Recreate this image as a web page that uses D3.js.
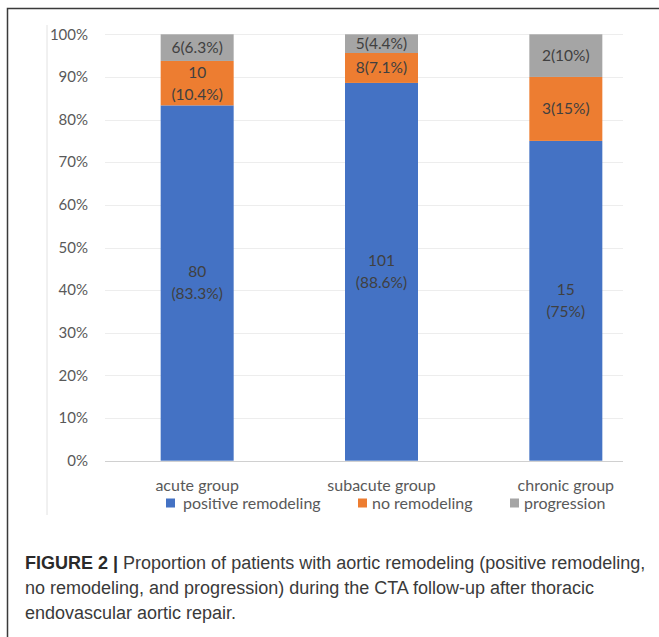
<!DOCTYPE html>
<html>
<head>
<meta charset="utf-8">
<script src="https://cdn.jsdelivr.net/npm/d3@7"></script>
<style>
  body { margin: 0; background: #fff; }
  svg { display: block; }
</style>
</head>
<body>
<div id="chart"></div>
<script>
// categories and series (counts per group)
const groups = ["acute group", "subacute group", "chronic group"];
const seriesNames = ["positive remodeling", "no remodeling", "progression"];
const positive = [80, 101, 15];
const noRemodel = [10, 8, 3];
const progression = [6, 5, 2];
// percentage text as printed on the figure
const positivePct = ["83.3%", "88.6%", "75%"];
const noRemodelPct = ["10.4%", "7.1%", "15%"];
const progressionPct = ["6.3%", "4.4%", "10%"];
const yTicks = [0, 0.1, 0.2, 0.3, 0.4, 0.5, 0.6, 0.7, 0.8, 0.9, 1];
const captionBold = "FIGURE 2 |";
const captionLines = [
  " Proportion of patients with aortic remodeling (positive remodeling,",
  "no remodeling, and progression) during the CTA follow-up after thoracic",
  "endovascular aortic repair."
];

const colors = ["#4472C4", "#ED7D31", "#A5A5A5"];
const width = 659, height = 637;

const svg = d3.select("#chart").append("svg")
    .attr("width", width)
    .attr("height", height)
    .attr("viewBox", [0, 0, width, height]);

// outer figure frame (runs off the right and bottom edge)
svg.append("rect")
    .attr("x", 7.5).attr("y", 8.5)
    .attr("width", 800).attr("height", 800)
    .attr("fill", "none")
    .attr("stroke", "#3a3a3a")
    .attr("stroke-width", 1.5);

// faint chart-area edge
svg.append("line")
    .attr("x1", 47).attr("x2", 47)
    .attr("y1", 25).attr("y2", 515)
    .attr("stroke", "#e2e2e2");

// build table
const table = groups.map((g, i) => ({
  group: g,
  total: positive[i] + noRemodel[i] + progression[i],
  counts: [positive[i], noRemodel[i], progression[i]],
  pcts: [positivePct[i], noRemodelPct[i], progressionPct[i]]
}));

const rows = table.map(d => {
  const o = { group: d.group };
  seriesNames.forEach((s, k) => { o[s] = d.counts[k] / d.total; });
  return o;
});

const stack = d3.stack().keys(seriesNames);
const series = stack(rows);

const x = d3.scaleBand()
    .domain(groups)
    .range([105, 658])
    .paddingInner(0.604)
    .paddingOuter(0.302);

const y = d3.scaleLinear()
    .domain([0, 1])
    .range([460.7, 34.3]);

const gridRight = 623;

// gridlines
svg.append("g")
  .selectAll("line")
  .data(yTicks)
  .join("line")
    .attr("x1", 105).attr("x2", gridRight)
    .attr("y1", d => Math.round(y(d)) + 0.5)
    .attr("y2", d => Math.round(y(d)) + 0.5)
    .attr("stroke", d => d === 0 ? "#d0d0d0" : "#ededed")
    .attr("stroke-width", d => d === 0 ? 1.2 : 1);

// y axis labels
svg.append("g")
  .selectAll("text")
  .data(yTicks)
  .join("text")
    .attr("x", 88)
    .attr("y", d => y(d))
    .attr("dy", "0.35em")
    .attr("text-anchor", "end")
    .attr("fill", "#595959")
    .style("font-family", "Lato, sans-serif")
    .style("font-size", "15px")
    .text(d3.format(".0%"));

// bars
const layers = svg.append("g")
  .selectAll("g")
  .data(series)
  .join("g")
    .attr("fill", (d, i) => colors[i]);

layers.selectAll("rect")
  .data(d => d)
  .join("rect")
    .attr("x", d => x(d.data.group))
    .attr("y", d => y(d[1]))
    .attr("width", x.bandwidth())
    .attr("height", d => y(d[0]) - y(d[1]));

// data labels
const labelData = [];
series.forEach((s, k) => {
  s.forEach((d, i) => {
    const c = table[i].counts[k];
    const p = table[i].pcts[k];
    // two-line labels where the segment is tall enough or as in the figure
    const twoLine = k === 0 || (k === 1 && i === 0);
    labelData.push({
      cx: x(d.data.group) + x.bandwidth() / 2,
      cy: (y(d[0]) + y(d[1])) / 2,
      lines: twoLine ? [String(c), "(" + p + ")"] : [c + "(" + p + ")"]
    });
  });
});

const labels = svg.append("g")
  .selectAll("text")
  .data(labelData)
  .join("text")
    .attr("x", d => d.cx)
    .attr("y", d => d.cy)
    .attr("text-anchor", "middle")
    .attr("fill", "#404040")
    .style("font-family", "Lato, sans-serif")
    .style("font-size", "15.5px");

labels.each(function(d) {
  const t = d3.select(this);
  const lh = 22;
  const start = -(d.lines.length - 1) * lh / 2;
  d.lines.forEach((ln, j) => {
    t.append("tspan")
      .attr("x", d.cx)
      .attr("y", d.cy + start + j * lh)
      .attr("dy", "0.35em")
      .text(ln);
  });
});

// category labels
svg.append("g")
  .selectAll("text")
  .data(groups)
  .join("text")
    .attr("x", d => x(d) + x.bandwidth() / 2)
    .attr("y", 485)
    .attr("dy", "0.35em")
    .attr("text-anchor", "middle")
    .attr("fill", "#595959")
    .style("font-family", "Lato, sans-serif")
    .style("font-size", "16px")
    .text(d => d);

// legend
const legendX = [166, 358, 510];
const legend = svg.append("g")
  .selectAll("g")
  .data(seriesNames)
  .join("g")
    .attr("transform", (d, i) => `translate(${legendX[i]},503)`);

legend.append("rect")
    .attr("x", 0).attr("y", -4.5)
    .attr("width", 9).attr("height", 9)
    .attr("fill", (d, i) => colors[i]);

legend.append("text")
    .attr("x", (d, i) => i === 0 ? 17 : 14)
    .attr("y", 0)
    .attr("dy", "0.35em")
    .attr("fill", "#595959")
    .style("font-family", "Lato, sans-serif")
    .style("font-size", "16px")
    .text(d => d);

// caption
const cap = svg.append("g")
    .style("font-family", "'Liberation Sans', Arial, sans-serif")
    .style("font-size", "18px")
    .attr("fill", "#3a3a3a");

const capBaselines = [569, 594, 619];
const first = cap.append("text")
    .attr("x", 25)
    .attr("y", capBaselines[0]);
first.append("tspan")
    .style("font-weight", "bold")
    .attr("fill", "#2a2a2a")
    .text(captionBold);
first.append("tspan")
    .text(captionLines[0]);

captionLines.slice(1).forEach((ln, i) => {
  cap.append("text")
    .attr("x", 25)
    .attr("y", capBaselines[i + 1])
    .text(ln);
});
</script>
</body>
</html>
